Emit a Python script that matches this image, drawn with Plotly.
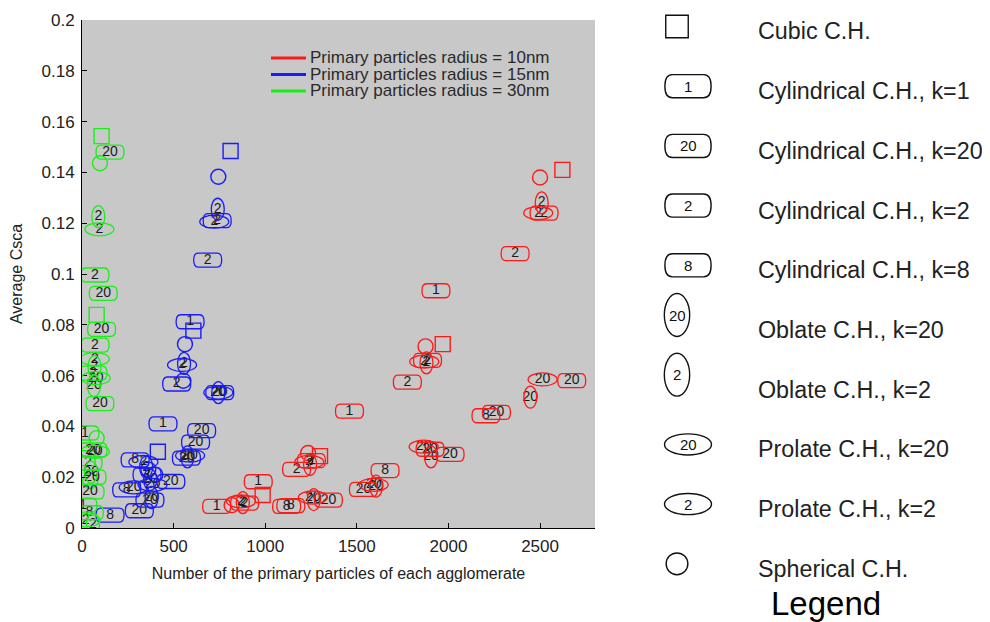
import plotly.graph_objects as go

# ---------------- data ----------------
# radius 10 nm (red)
r10_n = [2500, 2622, 2509, 2490, 2522, 2364, 1932, 1875, 1969, 1880, 1868, 1886, 1776, 1460,
         2205, 2262, 2514, 2673, 2447, 1865, 1900, 1905, 2009, 1654, 1536, 1605, 1592,
         735, 817, 868, 888, 878, 962, 986, 1117, 1140, 1265, 1260, 1345, 1171, 1240, 1252,
         1245, 1234, 1299]
r10_csca = [0.138, 0.141, 0.128, 0.124, 0.124, 0.108, 0.0934, 0.0715, 0.0724, 0.065, 0.0655,
            0.066, 0.0574, 0.046, 0.0442, 0.0455, 0.0585, 0.058, 0.0515, 0.032, 0.031, 0.028,
            0.029, 0.0226, 0.0152, 0.0165, 0.017, 0.0085, 0.009, 0.0105, 0.0098, 0.0100,
            0.0182, 0.013, 0.0085, 0.0088, 0.0112, 0.012, 0.011, 0.0231, 0.026, 0.0265, 0.025,
            0.0295, 0.0283]
r10_shape = ["sph", "cub", "obl2", "pro2", "cyl2", "cyl2", "cyl1", "sph", "cub", "obl2", "pro2",
             "cyl2", "cyl2", "cyl1", "cyl8", "cyl20", "pro20", "cyl20", "obl20", "pro20", "cyl20",
             "obl20", "cyl20", "cyl8", "cyl20", "obl20", "pro20", "cyl1", "sph", "pro2", "cyl2",
             "obl2", "cyl1", "cub", "cyl8", "cyl8", "obl20", "pro20", "cyl20", "cyl2", "pro2",
             "cyl2", "obl2", "sph", "cub"]

# radius 15 nm (blue)
r15_n = [811, 744, 741, 722, 738, 686, 590, 608, 562, 557, 546, 553, 517, 744, 744, 752, 442,
         653, 620, 570, 575, 590, 414, 485, 290, 335, 350, 362, 355, 372, 385, 400, 244, 282,
         371, 380, 313, 153]
r15_csca = [0.1484, 0.1383, 0.1255, 0.1206, 0.121, 0.1055, 0.0812, 0.0777, 0.0724, 0.0648,
            0.0642, 0.058, 0.0567, 0.0533, 0.0533, 0.0533, 0.041, 0.0383, 0.0338, 0.0275, 0.028,
            0.0285, 0.030, 0.0183, 0.0268, 0.026, 0.024, 0.023, 0.021, 0.019, 0.017, 0.021,
            0.015, 0.016, 0.011, 0.012, 0.0068, 0.0051]
r15_shape = ["cub", "sph", "obl2", "pro2", "cyl2", "cyl2", "cyl1", "cub", "sph", "obl2", "pro2",
             "sph", "cyl2", "obl20", "pro20", "cyl20", "cyl1", "cyl20", "cyl20", "cyl20", "obl20",
             "pro20", "cub", "cyl20", "cyl8", "pro2", "obl2", "sph", "cyl2", "obl20", "pro20",
             "sph", "cyl8", "pro20", "cyl20", "obl20", "cyl20", "cyl8"]

# radius 30 nm (green)
r30_n = [107, 153, 98, 89, 95, 71, 116, 80, 107, 71, 70, 68, 60, 75, 65, 98, 16, 80, 60, 70,
         33, 55, 50, 44, 5, 40, 20, 60, 30, 45]
r30_csca = [0.1543, 0.148, 0.1436, 0.1226, 0.1176, 0.0996, 0.0924, 0.0839, 0.0782, 0.072,
            0.0665, 0.0635, 0.061, 0.059, 0.056, 0.049, 0.0374, 0.0354, 0.0307, 0.030, 0.0256,
            0.020, 0.022, 0.0142, 0.009, 0.006, 0.003, 0.0015, 0.0275, 0.0185]
r30_shape = ["cub", "cyl20", "sph", "obl2", "pro2", "cyl2", "cyl20", "cub", "cyl20", "cyl2",
             "pro2", "obl2", "cyl2", "pro20", "obl20", "cyl20", "cyl1", "sph", "cyl20", "pro20",
             "cyl2", "cyl20", "obl20", "cyl20", "cyl1", "cyl8", "pro2", "obl2", "cub", "sph"]

series_names = ["Primary particles radius = 10nm", "Primary particles radius = 15nm",
                "Primary particles radius = 30nm"]
series_colors = ["#ff1a1a", "#1a1aff", "#1aee1a"]

x_tickvals = [0, 500, 1000, 1500, 2000, 2500]
y_tickvals = [0, 0.02, 0.04, 0.06, 0.08, 0.1, 0.12, 0.14, 0.16, 0.18, 0.2]
y_ticktext = ["0", "0.02", "0.04", "0.06", "0.08", "0.1", "0.12", "0.14", "0.16", "0.18", "0.2"]

legend_shapes = ["cub", "cyl1", "cyl20", "cyl2", "cyl8", "obl20", "obl2", "pro20", "pro2", "sph"]
legend_labels = ["Cubic C.H.", "Cylindrical C.H., k=1", "Cylindrical C.H., k=20",
                 "Cylindrical C.H., k=2", "Cylindrical C.H., k=8", "Oblate C.H., k=20",
                 "Oblate C.H., k=2", "Prolate C.H., k=20", "Prolate C.H., k=2", "Spherical C.H."]

FONT = "Liberation Sans, Arial, sans-serif"

# ---------------- figure geometry (pixels) ----------------
# the page body has an 8px default margin, so the figure is sized to fit the window
OFF = 8
W, H = 990 - OFF, 622 - OFF
ML, MT = 82 - OFF, 20 - OFF
PW, PH = 513, 508
MR, MB = W - ML - PW, H - MT - PH


def px_to_paper_x(px):
    return (px - OFF - ML) / PW


def px_to_paper_y(py):
    return (MT + PH - (py - OFF)) / PH


def glyph_shape(kind, xa, ya, xref, yref, color, scale=1.0, width=1.3):
    fam = kind[:3]
    base = dict(xref=xref, yref=yref, xsizemode="pixel", ysizemode="pixel",
                xanchor=xa, yanchor=ya, line=dict(color=color, width=width),
                fillcolor="rgba(0,0,0,0)", layer="above")
    if fam == "cyl":
        hw, hh = 14 * scale, 7 * scale
        c = hw - 4.5 * scale
        path = (f"M{-c},{-hh} L{c},{-hh} Q{hw},{-hh} {hw},0 Q{hw},{hh} {c},{hh} "
                f"L{-c},{hh} Q{-hw},{hh} {-hw},0 Q{-hw},{-hh} {-c},{-hh} Z")
        return dict(type="path", path=path, **base)
    if fam == "pro":
        w, h = 29 * scale, 13 * scale
        return dict(type="circle", x0=-w / 2, x1=w / 2, y0=-h / 2, y1=h / 2, **base)
    if fam == "obl":
        w, h = 13 * scale, 22 * scale
        return dict(type="circle", x0=-w / 2, x1=w / 2, y0=-h / 2, y1=h / 2, **base)
    if fam == "cub":
        s = 15 * scale
        return dict(type="rect", x0=-s / 2, x1=s / 2, y0=-s / 2, y1=s / 2, **base)
    s = 15 * scale
    return dict(type="circle", x0=-s / 2, x1=s / 2, y0=-s / 2, y1=s / 2, **base)


fig = go.Figure()
shapes = []
annotations = []

groups = [(r10_n, r10_csca, r10_shape), (r15_n, r15_csca, r15_shape), (r30_n, r30_csca, r30_shape)]
for (xs, ys, kinds), name, color in zip(groups, series_names, series_colors):
    # cubic / spherical hulls as library markers
    for fam, sym in (("cub", "square-open"), ("sph", "circle-open")):
        idx = [i for i, k in enumerate(kinds) if k == fam]
        fig.add_trace(go.Scatter(
            x=[xs[i] for i in idx], y=[ys[i] for i in idx], mode="markers",
            marker=dict(symbol=sym, size=15, color=color, line=dict(width=1.4, color=color)),
            showlegend=False, hoverinfo="skip"))
    # elongated hulls as pixel-sized shapes anchored at data values
    for x, y, k in zip(xs, ys, kinds):
        if k[:3] in ("cyl", "pro", "obl"):
            shapes.append(glyph_shape(k, x, y, "x", "y", color))
    lbl = [k[3:] if k[:3] in ("cyl", "pro", "obl") else "" for k in kinds]
    fig.add_trace(go.Scatter(
        x=xs, y=ys, mode="text", text=lbl,
        textfont=dict(family=FONT, size=14, color="#1a1a1a"),
        showlegend=False, hoverinfo="skip"))

# inner legend (radius colours)
for i, (name, color) in enumerate(zip(series_names, series_colors)):
    py = 58 + i * 16.5
    shapes.append(dict(type="line", xref="paper", yref="paper",
                       x0=px_to_paper_x(271), x1=px_to_paper_x(306),
                       y0=px_to_paper_y(py), y1=px_to_paper_y(py),
                       line=dict(color=color, width=3)))
    annotations.append(dict(xref="paper", yref="paper", x=px_to_paper_x(308),
                            y=px_to_paper_y(py), text=name, showarrow=False,
                            xanchor="left", yanchor="middle",
                            font=dict(family=FONT, size=17, color="#2a2a2a")))

# right legend panel (hull shapes)
for i, (kind, label) in enumerate(zip(legend_shapes, legend_labels)):
    ty = 31.5 + i * 59.7
    fam = kind[:3]
    sy = ty - (15 if fam == "obl" else 5)
    sx = 688 if fam in ("cyl", "pro") else 677
    sc = {"cyl": 1.65, "pro": 1.62, "obl": 1.95, "cub": 1.5, "sph": 1.45}[fam]
    shapes.append(glyph_shape(kind, px_to_paper_x(sx), px_to_paper_y(sy), "paper", "paper",
                              "#111111", scale=sc, width=1.4))
    if fam in ("cyl", "pro", "obl"):
        annotations.append(dict(xref="paper", yref="paper", x=px_to_paper_x(sx),
                                y=px_to_paper_y(sy), text=kind[3:], showarrow=False,
                                xanchor="center", yanchor="middle",
                                font=dict(family=FONT, size=15, color="#111111")))
    annotations.append(dict(xref="paper", yref="paper", x=px_to_paper_x(756),
                            y=px_to_paper_y(ty), text=label, showarrow=False,
                            xanchor="left", yanchor="middle",
                            font=dict(family=FONT, size=23.3, color="#222222")))

annotations.append(dict(xref="paper", yref="paper", x=px_to_paper_x(826), y=px_to_paper_y(603),
                        text="Legend", showarrow=False, xanchor="center", yanchor="middle",
                        font=dict(family=FONT, size=33, color="#000000")))

fig.update_layout(
    width=W, height=H,
    margin=dict(l=ML, r=MR, t=MT, b=MB, pad=0, autoexpand=False),
    paper_bgcolor="white", plot_bgcolor="#c8c8c8",
    font=dict(family=FONT, color="#222222"),
    shapes=shapes, annotations=annotations, showlegend=False,
    xaxis=dict(range=[0, 2800], tickvals=x_tickvals, showgrid=False, zeroline=False,
               automargin=False, ticklabelstandoff=3,
               showline=True, linecolor="black", linewidth=1, ticks="inside", ticklen=5,
               tickcolor="black", tickfont=dict(size=17, color="#222222"),
               title=dict(text="Number of the primary particles of each agglomerate",
                          font=dict(size=16, color="#222222"), standoff=12)),
    yaxis=dict(range=[0, 0.2], tickvals=y_tickvals, ticktext=y_ticktext, showgrid=False,
               automargin=False, ticklabelstandoff=3,
               zeroline=False, showline=True, linecolor="black", linewidth=1, ticks="inside",
               ticklen=5, tickcolor="black", tickfont=dict(size=17, color="#222222"),
               title=dict(text="Average Csca", font=dict(size=16, color="#222222"), standoff=16)),
)

fig.write_html("out.html")
